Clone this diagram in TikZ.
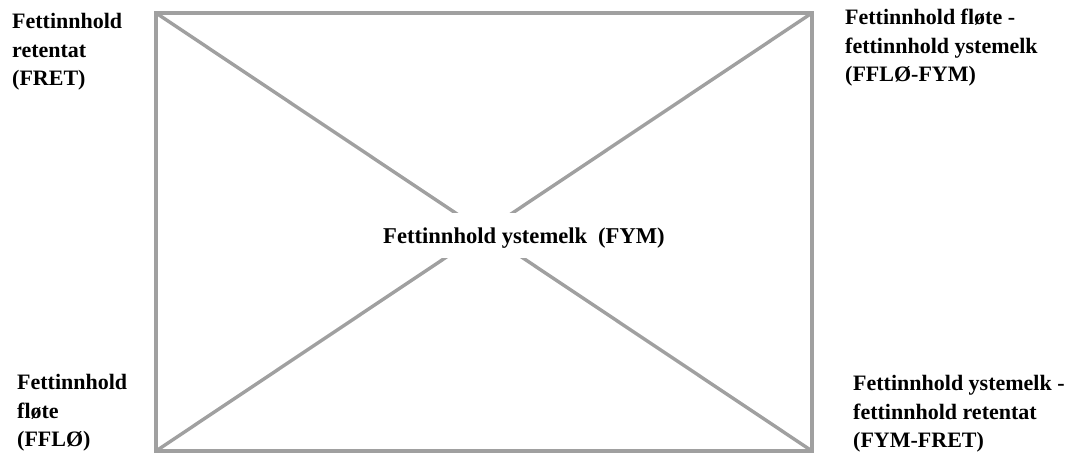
\documentclass[tikz,border=0pt]{standalone}
\usepackage{fontspec}
\setmainfont{Liberation Serif}
\definecolor{framegray}{HTML}{A0A0A0}
\usetikzlibrary{positioning}

\begin{document}
\begin{tikzpicture}[
  x=1pt, y=1pt,
  frame/.style={draw=framegray, line width=3.4pt},
  label/.style={font=\bfseries\fontsize{22}{28.8}\selectfont, align=left, inner sep=0pt, anchor=base west},
]
\useasboundingbox (0,0) rectangle (1073,454);

% Corners of the square
\coordinate (tl) at (156,441);
\coordinate (tr) at (812,441);
\coordinate (bl) at (156,3);
\coordinate (br) at (812,3);

\draw[frame] (tl) rectangle (br);
\draw[frame] (tl) -- (br);
\draw[frame] (bl) -- (tr);

% Centre value, white box hides the crossing
\node[label, font=\bfseries\fontsize{22.6}{28.8}\selectfont, fill=white, text height=31pt, text depth=14pt] (fym) at (383,210) {Fettinnhold ystemelk\hspace*{11pt}(FYM)};

% Corner labels (anchored on the last line)
\node[label] (fret) at (12,368) {Fettinnhold\\retentat\\(FRET)};
\node[label] (fflodiff) at (845,372) {Fettinnhold fløte -\\fettinnhold ystemelk\\(FFLØ-FYM)};
\node[label] (fflo) at (17,7) {Fettinnhold\\fløte\\(FFLØ)};
\node[label] (fretdiff) at (853,6) {Fettinnhold ystemelk -\\fettinnhold retentat\\(FYM-FRET)};

\end{tikzpicture}
\end{document}
